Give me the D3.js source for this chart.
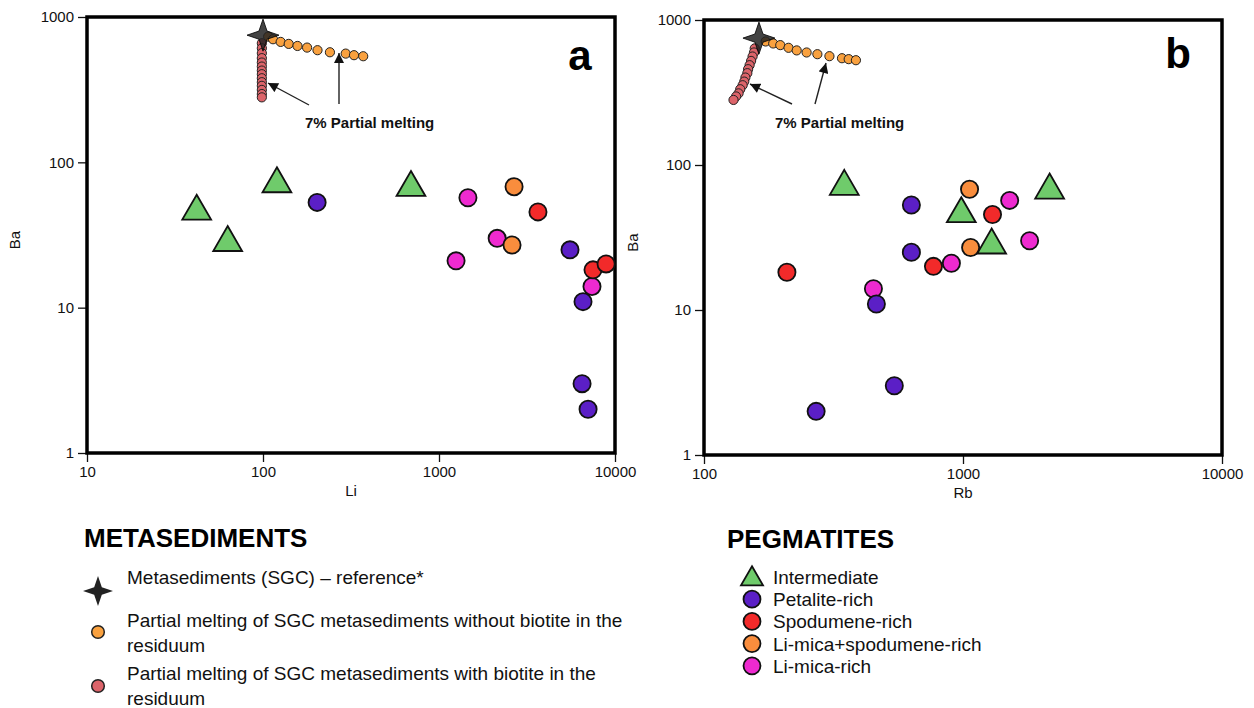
<!DOCTYPE html>
<html>
<head>
<meta charset="utf-8">
<script src="https://cdn.jsdelivr.net/npm/d3@7"></script>
<style>
  html, body { margin: 0; padding: 0; background: #fff; }
  svg { display: block; font-family: "Liberation Sans", Arial, Helvetica, sans-serif; }
</style>
</head>
<body>
<svg id="chart" width="1254" height="708"></svg>
<script>
// ---------------- DATA ----------------
const xTicksA = [10, 100, 1000, 10000];
const xTicksB = [100, 1000, 10000];
const yTicks = [1, 10, 100, 1000];

// Reference metasediment (SGC)
const refLi = [100];
const refRb = [163];
const refBa = [750];

// Partial melting without biotite in residuum
const meltNoBtLi = [107, 114, 126, 140, 157, 178, 204, 240, 295, 329, 371];
const meltNoBtBaA = [733, 703, 674, 653, 632, 616, 591, 572, 560, 546, 537];
const meltNoBtRb = [173, 185, 197, 212, 228, 249, 274, 305, 341, 362, 386];
const meltNoBtBaB = [711, 689, 671, 643, 617, 597, 581, 563, 545, 537, 528];

// Partial melting with biotite in residuum
const meltBtLi = [98.5, 98.5, 98.5, 98.5, 98.5, 98.5, 98.5, 98.5, 98.5, 98.5, 98.5, 98.5, 98.5, 98.5];
const meltBtBaA = [660, 610, 564, 521, 486, 456, 428, 404, 379, 356, 336, 315, 295, 280];
const meltBtRb = [157, 156, 154, 152, 150, 148, 147, 144.5, 143, 141, 138, 136, 133, 130];
const meltBtBaB = [637, 597, 560, 522, 488, 458, 430, 401, 376, 355, 333, 312, 297, 281];

// Pegmatites
const intermLi = [42, 63, 120, 693];
const intermRb = [985, 1290, 348, 2160];
const intermBa = [46, 28, 71, 67];

const petalLi = [203, 5550, 6580, 6500, 7030];
const petalRb = [632, 632, 463, 543, 271];
const petalBa = [53, 25, 11, 3, 2];

const spodLi = [3650, 7500, 8900];
const spodRb = [1300, 209, 769];
const spodBa = [45.6, 18.2, 20];

const limicaSpodLi = [2670, 2600];
const limicaSpodRb = [1060, 1070];
const limicaSpodBa = [68, 27];

const limicaLi = [1460, 2140, 1250, 7400];
const limicaRb = [1514, 1808, 902, 451];
const limicaBa = [57, 30, 21, 14];

const metaLegend = [
  ["Metasediments (SGC) \u2013 reference*"],
  ["Partial melting of SGC metasediments without biotite in the", "residuum"],
  ["Partial melting of SGC metasediments with biotite in the", "residuum"]
];
const pegLegend = ["Intermediate", "Petalite-rich", "Spodumene-rich", "Li-mica+spodumene-rich", "Li-mica-rich"];

// ---------------- STYLE ----------------
const C = {
  green: "#6fcb6b", purple: "#5b1fc6", red: "#f22a2a", orange: "#f98d3d", magenta: "#ee2ad0",
  meltOrange: "#f9a13f", meltRed: "#dc646a", star: "#222"
};

const svg = d3.select("#chart");

// 4-pointed star symbol
const star4 = {
  draw(ctx, size) {
    const r = Math.sqrt(size);
    const ri = r * 0.36;
    for (let k = 0; k < 8; k++) {
      const a = k * Math.PI / 4 - Math.PI / 2;
      const rr = k % 2 === 0 ? r : ri;
      const x = rr * Math.cos(a), y = rr * Math.sin(a);
      if (k === 0) ctx.moveTo(x, y); else ctx.lineTo(x, y);
    }
    ctx.closePath();
  }
};

svg.append("defs").append("marker")
  .attr("id", "arrow").attr("viewBox", "0 0 10 10")
  .attr("refX", 10).attr("refY", 5)
  .attr("markerWidth", 11).attr("markerHeight", 10)
  .attr("markerUnits", "userSpaceOnUse")
  .attr("orient", "auto")
  .append("path").attr("d", "M0,0 L10,5 L0,10 Z").attr("fill", "#111");

function zip(xs, ys) { return xs.map((v, i) => [v, ys[i]]); }

function panel(opts) {
  const { x, y, xTicks, xLabel, letter, letterPos, groups, melt, ref, arrows, noteX, noteY, baLabelX, xLabelX } = opts;
  const g = svg.append("g");
  const [x0, x1] = x.range();
  const [y0, y1] = y.range();

  // axes
  const ax = g.append("g").attr("transform", `translate(0,${y0})`)
    .call(d3.axisBottom(x).tickValues(xTicks).tickFormat(d3.format("d")).tickSize(9).tickPadding(4));
  const ay = g.append("g").attr("transform", `translate(${x0},0)`)
    .call(d3.axisLeft(y).tickValues(yTicks).tickFormat(d3.format("d")).tickSize(9).tickPadding(4));
  [ax, ay].forEach(a => {
    a.select(".domain").remove();
    a.selectAll(".tick line").attr("stroke", "#111").attr("stroke-width", 1.3);
    a.selectAll(".tick text").attr("fill", "#111").style("font-size", "15px");
  });

  // frame
  g.append("rect").attr("x", x0).attr("y", y1).attr("width", x1 - x0).attr("height", y0 - y1)
    .attr("fill", "none").attr("stroke", "#000").attr("stroke-width", 3.5);

  // axis labels
  g.append("text").attr("x", xLabelX).attr("y", y0 + 43).attr("text-anchor", "middle")
    .style("font-size", "15px").attr("fill", "#111").text(xLabel);
  g.append("text").attr("transform", `translate(${baLabelX},${(y0 + y1) / 2 + 5}) rotate(-90)`)
    .attr("text-anchor", "middle").style("font-size", "15px").attr("fill", "#111").text("Ba");

  // panel letter
  g.append("text").attr("x", letterPos[0]).attr("y", letterPos[1]).attr("text-anchor", "middle")
    .style("font-size", "42px").style("font-weight", "bold").attr("fill", "#000").text(letter);

  // melting curves
  melt.forEach(m => {
    g.append("g").selectAll("circle").data(m.pts).join("circle")
      .attr("cx", d => x(d[0])).attr("cy", d => y(d[1])).attr("r", 4.6)
      .attr("fill", m.color).attr("stroke", "#222").attr("stroke-width", 1);
  });

  // reference star
  g.append("g").selectAll("path").data(ref).join("path")
    .attr("transform", d => `translate(${x(d[0])},${y(d[1])})`)
    .attr("d", d3.symbol().type(star4).size(16 * 16))
    .attr("fill", C.star).attr("fill-opacity", 0.85).attr("stroke", "#000").attr("stroke-width", 0.8);

  // arrows
  arrows.forEach(a => {
    g.append("line").attr("x1", a[0]).attr("y1", a[1]).attr("x2", a[2]).attr("y2", a[3])
      .attr("stroke", "#222").attr("stroke-width", 1.4).attr("marker-end", "url(#arrow)");
  });
  g.append("text").attr("x", noteX).attr("y", noteY)
    .style("font-size", "15px").style("font-weight", "bold").attr("fill", "#111").text("7% Partial melting");

  // pegmatites
  groups.forEach(gr => {
    const sel = g.append("g").selectAll("path").data(gr.pts).join("path")
      .attr("transform", d => `translate(${x(d[0])},${y(d[1])})`)
      .attr("fill", gr.color).attr("stroke", "#111").attr("stroke-width", 1.8);
    if (gr.shape === "tri") sel.attr("d", d3.symbol().type(d3.symbolTriangle).size(360));
    else sel.attr("d", d3.symbol().type(d3.symbolCircle).size(Math.PI * 8.6 * 8.6));
  });
}

// Panel a
const xA = d3.scaleLog().domain([10, 10000]).range([87, 615]);
const yA = d3.scaleLog().domain([1, 1000]).range([453, 17]);
panel({
  x: xA, y: yA, xTicks: xTicksA, xLabel: "Li", letter: "a", letterPos: [580, 70],
  xLabelX: 351, baLabelX: 20,
  melt: [
    { pts: zip(meltBtLi, meltBtBaA), color: C.meltRed },
    { pts: zip(meltNoBtLi, meltNoBtBaA), color: C.meltOrange }
  ],
  ref: zip(refLi, refBa),
  arrows: [[309, 105, xA(refLi[0]) + 5, 83], [339, 104, 339, 53]],
  noteX: 305, noteY: 128,
  groups: [
    { pts: zip(limicaLi, limicaBa), color: C.magenta },
    { pts: zip(limicaSpodLi, limicaSpodBa), color: C.orange },
    { pts: zip(spodLi, spodBa), color: C.red },
    { pts: zip(petalLi, petalBa), color: C.purple },
    { pts: zip(intermLi, intermBa), color: C.green, shape: "tri" }
  ]
});

// Panel b
const xB = d3.scaleLog().domain([100, 10000]).range([704, 1222]);
const yB = d3.scaleLog().domain([1, 1000]).range([455, 20]);
panel({
  x: xB, y: yB, xTicks: xTicksB, xLabel: "Rb", letter: "b", letterPos: [1178, 68],
  xLabelX: 963, baLabelX: 638,
  melt: [
    { pts: zip(meltBtRb, meltBtBaB), color: C.meltRed },
    { pts: zip(meltNoBtRb, meltNoBtBaB), color: C.meltOrange }
  ],
  ref: zip(refRb, refBa),
  arrows: [[792, 104, 750, 84], [815, 104, 826, 63]],
  noteX: 775, noteY: 128,
  groups: [
    { pts: zip(limicaRb, limicaBa), color: C.magenta },
    { pts: zip(limicaSpodRb, limicaSpodBa), color: C.orange },
    { pts: zip(spodRb, spodBa), color: C.red },
    { pts: zip(petalRb, petalBa), color: C.purple },
    { pts: zip(intermRb, intermBa), color: C.green, shape: "tri" }
  ]
});

// ---------------- LEGENDS ----------------
const lg = svg.append("g");
lg.append("text").attr("x", 84).attr("y", 547).style("font-size", "26px").style("font-weight", "bold")
  .attr("fill", "#000").text("METASEDIMENTS");

const metaY = [577, 620, 673];
const metaMarkerY = [591, 632, 686];
lg.append("path").attr("transform", `translate(98,${metaMarkerY[0]})`)
  .attr("d", d3.symbol().type(star4).size(15 * 15)).attr("fill", C.star);
lg.append("circle").attr("cx", 98).attr("cy", metaMarkerY[1]).attr("r", 6.3)
  .attr("fill", C.meltOrange).attr("stroke", "#222").attr("stroke-width", 1.5);
lg.append("circle").attr("cx", 98).attr("cy", metaMarkerY[2]).attr("r", 6.3)
  .attr("fill", C.meltRed).attr("stroke", "#222").attr("stroke-width", 1.5);
metaLegend.forEach((lines, i) => {
  lines.forEach((t, j) => {
    lg.append("text").attr("x", 127).attr("y", metaY[i] + 7 + j * 25)
      .style("font-size", "19px").attr("fill", "#111").text(t);
  });
});

lg.append("text").attr("x", 727).attr("y", 548).style("font-size", "26px").style("font-weight", "bold")
  .attr("fill", "#000").text("PEGMATITES");
const pegColors = [C.green, C.purple, C.red, C.orange, C.magenta];
pegLegend.forEach((t, i) => {
  const yy = 577 + i * 22.2;
  const m = lg.append("path").attr("transform", `translate(752,${yy + (i === 0 ? 2 : 0)})`)
    .attr("fill", pegColors[i]).attr("stroke", "#111").attr("stroke-width", 1.8);
  if (i === 0) m.attr("d", d3.symbol().type(d3.symbolTriangle).size(210));
  else m.attr("d", d3.symbol().type(d3.symbolCircle).size(Math.PI * 8.5 * 8.5));
  lg.append("text").attr("x", 773).attr("y", yy + 7).style("font-size", "19px").attr("fill", "#111").text(t);
});
</script>
</body>
</html>
